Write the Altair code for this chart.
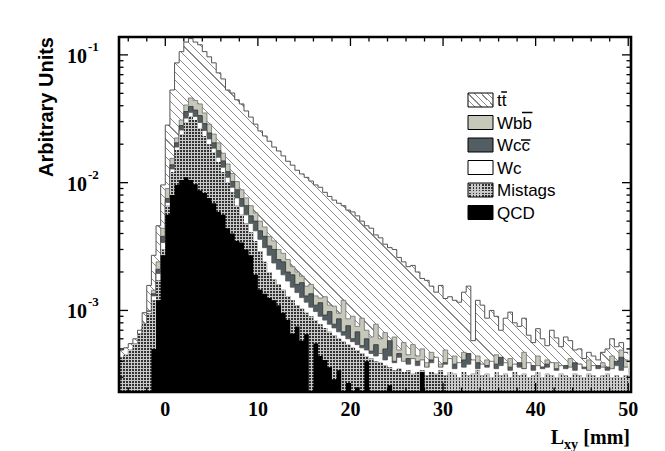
import altair as alt
import pandas as pd
import numpy as np

# ---------------- data (bin contents, units of 1e-4; bins of 0.5 mm from -5 to 50) ----------------
BIN_START, BIN_W, NBINS = -5.0, 0.5, 110
UNIT = 1e-4

ttbar = [4.9, 5.1, 5.5, 6.0, 7.0, 9.6, 15.7, 27, 46, 96,
         282, 531, 866, 1060, 1260, 1340, 1260, 1200, 1060, 965,
         866, 723, 648, 531, 503, 445, 413, 364, 326, 287,
         254, 232, 211, 190, 177, 162, 147, 137, 125, 117,
         110, 103, 96, 92, 84, 78, 73, 69, 66, 61,
         59, 55, 50, 46, 44, 39, 37, 33, 31, 30,
         26, 24, 22, 22.5, 20, 17.8, 17.2, 15.5, 13.9, 15.7,
         12.4, 12.8, 12.0, 11.6, 13.9, 15.5, 5.8, 12.0, 11.0, 8.7,
         10.0, 9.0, 7.0, 8.7, 9.7, 8.0, 7.5, 8.7, 6.4, 5.6,
         7.2, 6.0, 5.3, 7.0, 6.1, 5.2, 6.2, 5.8, 4.9, 5.0,
         4.2, 4.7, 4.4, 4.1, 4.7, 5.0, 6.0, 5.2, 5.6, 4.7]

wbb = [4.1, 4.4, 4.9, 5.2, 6.5, 7.5, 10, 14.4, 24, 44,
       90, 155, 224, 309, 405, 460, 440, 413, 351, 287,
       240, 205, 170, 140, 118, 102, 88, 76, 66, 58,
       50, 45, 38, 35, 30, 28, 25, 22, 20, 18.5,
       15.5, 16, 13, 12.5, 12.8, 11, 10.8, 9.5, 12, 8.6,
       9.0, 7.5, 8.7, 7.0, 6.2, 7.8, 6.0, 6.7, 5.0, 6.2,
       4.9, 5.6, 4.5, 5.4, 4.4, 5.0, 3.9, 4.7, 4.2, 3.8,
       4.9, 3.9, 4.4, 3.6, 4.7, 4.1, 3.8, 4.4, 3.5, 4.1,
       3.6, 4.5, 3.9, 3.5, 4.2, 3.6, 3.4, 4.7, 3.8, 3.5,
       4.4, 3.6, 4.1, 3.4, 3.9, 3.6, 3.3, 4.2, 3.5, 3.8,
       3.4, 4.1, 3.6, 3.3, 3.9, 3.5, 4.4, 3.9, 4.9, 4.1]

wcc = [3.9, 4.2, 4.4, 4.8, 5.8, 7.2, 9.6, 13.5, 21, 38,
       75, 138, 205, 280, 360, 395, 370, 335, 290, 245,
       205, 178, 148, 122, 102, 88, 75, 66, 55, 50,
       42, 38, 32, 30, 25, 24, 20, 19, 16, 16.5,
       13, 13.5, 11, 11.5, 9.2, 9.8, 7.8, 8.6, 6.8, 7.6,
       6.0, 6.8, 5.3, 6.0, 4.8, 5.4, 4.4, 5.0, 5.8, 4.0,
       4.6, 3.8, 4.2, 3.6, 4.0, 3.9, 3.5, 4.1, 3.7, 3.4,
       3.9, 3.5, 3.8, 3.4, 4.1, 4.6, 3.6, 3.9, 3.3, 3.7,
       3.4, 3.8, 4.3, 3.4, 3.6, 3.3, 3.9, 3.5, 3.4, 3.7,
       3.3, 3.6, 3.8, 3.3, 3.5, 3.4, 3.7, 3.3, 3.9, 3.4,
       3.6, 3.3, 3.4, 3.7, 3.3, 3.6, 3.4, 4.0, 4.3, 3.5]

wc = [4.0, 4.3, 4.5, 5.0, 6.0, 7.6, 9.8, 13, 19.5, 34,
      70, 128, 190, 258, 320, 355, 330, 296, 256, 220,
      186, 158, 132, 110, 92, 76, 65, 56, 48, 42,
      36, 31, 27, 23.5, 21, 19, 17, 15.2, 13.8, 12.6,
      11.6, 10.6, 9.8, 9.0, 8.4, 7.8, 7.3, 6.8, 6.4, 6.0,
      5.7, 5.4, 5.1, 4.9, 4.6, 4.4, 4.6, 4.1, 4.4, 3.9,
      4.3, 4.0, 3.8, 4.2, 3.7, 4.1, 3.6, 3.9, 4.3, 3.6,
      3.8, 4.2, 3.5, 3.9, 3.6, 3.8, 4.1, 3.5, 3.8, 3.6,
      4.0, 3.5, 3.7, 3.9, 3.4, 3.8, 3.6, 3.5, 3.9, 3.4,
      3.7, 3.5, 3.6, 3.9, 3.4, 3.7, 3.5, 3.6, 3.4, 3.8,
      3.5, 3.4, 3.7, 3.5, 3.6, 3.4, 3.5, 3.7, 3.4, 3.6]

mistags = [4.3, 4.5, 4.9, 5.5, 6.6, 7.9, 9.5, 12, 17.2, 30,
           66, 121, 180, 240, 298, 332, 309, 268, 232, 200,
           174, 145, 121, 101, 84, 66, 56, 48, 41, 35,
           29, 24, 20, 17.5, 16, 14.5, 13, 12, 11, 10.3,
           9.6, 9.0, 8.4, 7.8, 7.3, 6.8, 6.4, 6.0, 5.7, 5.4,
           5.1, 4.9, 4.6, 4.4, 4.2, 4.0, 3.9, 3.7, 3.6, 3.4,
           3.5, 3.3, 3.4, 3.2, 3.3, 3.4, 3.1, 3.3, 3.2, 3.4,
           3.1, 3.3, 3.2, 3.0, 3.3, 3.1, 3.2, 3.4, 3.1, 3.2,
           3.0, 3.3, 3.1, 3.2, 3.0, 3.3, 3.1, 3.2, 3.0, 3.1,
           3.3, 3.0, 3.2, 3.1, 3.0, 3.2, 3.1, 3.0, 3.2, 3.1,
           3.0, 3.2, 3.1, 3.0, 3.1, 3.2, 3.0, 3.1, 3.0, 3.1]

qcd = ([0, 0, 0, 0, 0, 0, 0, 5.0, 12, 27,
        56, 80, 96, 105, 110, 105, 97, 87, 83, 76,
        69, 59, 56, 44, 40, 35, 34, 30, 27, 19,
        14.5, 13.5, 12.5, 12, 11, 9.6, 8.4, 6.6, 7.5, 5.8,
        6.5, 0, 5.5, 4.4, 4.1, 3.6, 2.9, 3.4, 0, 2.7,
        0, 2.5, 0, 4.0, 0, 0, 0, 0, 2.6, 0,
        0, 0, 0, 0, 0, 3.3, 0, 0, 0, 0]
       + [0] * 40)

x_major = [0, 10, 20, 30, 40, 50]
x_major_labels = ["0", "10", "20", "30", "40", "50"]
x_minor = [-4, -2, 2, 4, 6, 8, 12, 14, 16, 18, 22, 24, 26, 28, 32, 34, 36, 38, 42, 44, 46, 48]
y_major = [1e-3, 1e-2, 1e-1]
y_major_sup = ["-3", "-2", "-1"]
y_minor = [3e-4, 4e-4, 5e-4, 6e-4, 7e-4, 8e-4, 9e-4,
           2e-3, 3e-3, 4e-3, 5e-3, 6e-3, 7e-3, 8e-3, 9e-3,
           2e-2, 3e-2, 4e-2, 5e-2, 6e-2, 7e-2, 8e-2, 9e-2]

legend_labels = ["tt", "Wbb", "Wcc", "Wc", "Mistags", "QCD"]

# ---------------- layout / style ----------------
W, H = 512, 355
XMIN, XMAX = -5.0, 50.3
YMIN, YMAX = 2.3e-4, 0.138

names = ["ttbar", "wbb", "wcc", "wc", "mistags", "qcd"]
series = [ttbar, wbb, wcc, wc, mistags, qcd]
for s in series:
    assert len(s) == NBINS, len(s)

edges = [BIN_START + BIN_W * i for i in range(NBINS + 1)]
df = pd.DataFrame({"x": edges})
for n, s in zip(names, series):
    v = np.array(list(s) + [s[-1]], dtype=float) * UNIT
    df[n] = np.where(v > 0, v, 1e-8)
df["base"] = YMIN

xscale = alt.Scale(domain=[XMIN, XMAX], nice=False, zero=False)
yscale = alt.Scale(type="log", domain=[YMIN, YMAX], nice=False)


def ypix(v):
    return H * (np.log10(YMAX) - np.log10(v)) / (np.log10(YMAX) - np.log10(YMIN))


def xpix(v):
    return W * (v - XMIN) / (XMAX - XMIN)


def stripe_gradient(n, frac, c_on, c_off, x1, y1, x2, y2):
    stops = []
    for k in range(n):
        a, b, c = k / n, (k + frac) / n, (k + 1) / n
        stops += [alt.GradientStop(color=c_on, offset=round(a, 6)),
                  alt.GradientStop(color=c_on, offset=round(b, 6)),
                  alt.GradientStop(color=c_off, offset=round(b, 6)),
                  alt.GradientStop(color=c_off, offset=round(c, 6))]
    return alt.LinearGradient(gradient="linear", stops=stops, x1=x1, y1=y1, x2=x2, y2=y2)


def hatch_gradient(w, h, spacing, line_px, c_line, c_bg):
    r = h / w
    s = (1 + r) / (1 + r * r)
    n = max(1, int(round(w * (1 + r) / spacing)))
    return stripe_gradient(n, line_px / spacing, c_line, c_bg, 0, 1, s, 1 - r * s)


TRANSP = "rgba(255,255,255,0)"
DOT_LIGHT = "#c9c9c9"
DOT_DARK = "#333333"
DOT_P = 3.0
DOT_FRAC = 0.45
HATCH = "#8a8a8a"

# geometry of the histogram shapes (for the fill patterns)
hist_w = xpix(edges[-1]) - xpix(edges[0])
tt_h = H - ypix(max(ttbar) * UNIT)
mis_h = H - ypix(max(mistags) * UNIT)

tt_fill = hatch_gradient(hist_w, tt_h, 8.5, 1.1, HATCH, "white")
mis_vert = stripe_gradient(int(round(hist_w / DOT_P)), DOT_FRAC, DOT_LIGHT, TRANSP, 0, 0, 1, 0)
mis_horz = stripe_gradient(int(round(mis_h / DOT_P)), DOT_FRAC, DOT_LIGHT, TRANSP, 0, 0, 0, 1)

X = alt.X("x:Q", scale=xscale, axis=None)


def area(col, fill):
    return alt.Chart(df).mark_area(interpolate="step-after", clip=True, fill=fill, strokeWidth=0).encode(
        x=X, y=alt.Y(f"{col}:Q", scale=yscale, axis=None), y2="base:Q")


def outline(col, color, width=0.9):
    return alt.Chart(df).mark_line(interpolate="step-after", clip=True, color=color, strokeWidth=width).encode(
        x=X, y=alt.Y(f"{col}:Q", scale=yscale, axis=None))


layers = [
    area("ttbar", tt_fill), outline("ttbar", "#555555", 1.0),
    area("wbb", "#c6c8ba"), outline("wbb", "#6e6e6e", 0.8),
    area("wcc", "#525e61"), outline("wcc", "#333333", 0.8),
    area("wc", "white"), outline("wc", "#555555", 0.8),
    area("mistags", DOT_DARK), area("mistags", mis_vert), area("mistags", mis_horz),
    area("qcd", "black"),
]

one = pd.DataFrame({"a": [0]})

# ticks (inward, on all four sides)
xmaj = pd.DataFrame({"v": x_major, "t": x_major_labels})
xmin_df = pd.DataFrame({"v": x_minor})
ymaj = pd.DataFrame({"v": y_major, "sup": y_major_sup})
ymin_df = pd.DataFrame({"v": y_minor})
XT = alt.X("v:Q", scale=xscale, axis=None)
YT = alt.Y("v:Q", scale=yscale, axis=None)
for d, L in [(xmaj, 9), (xmin_df, 4.5)]:
    layers.append(alt.Chart(d).mark_rule(color="black", strokeWidth=1.3).encode(x=XT, y=alt.value(H), y2=alt.value(H - L)))
    layers.append(alt.Chart(d).mark_rule(color="black", strokeWidth=1.3).encode(x=XT, y=alt.value(0), y2=alt.value(L)))
for d, L in [(ymaj, 9), (ymin_df, 4.5)]:
    layers.append(alt.Chart(d).mark_rule(color="black", strokeWidth=1.3).encode(y=YT, x=alt.value(0), x2=alt.value(L)))
    layers.append(alt.Chart(d).mark_rule(color="black", strokeWidth=1.3).encode(y=YT, x=alt.value(W), x2=alt.value(W - L)))

# frame
layers.append(alt.Chart(one).mark_rect(fillOpacity=0, stroke="black", strokeWidth=2.6).encode(
    x=alt.value(0), x2=alt.value(W), y=alt.value(0), y2=alt.value(H)))

# tick labels
SERIF = "Liberation Serif"
layers.append(alt.Chart(xmaj).mark_text(font=SERIF, fontWeight="bold", fontSize=20, align="center",
                                        baseline="alphabetic").encode(x=XT, y=alt.value(H + 24), text="t:N"))
layers.append(alt.Chart(ymaj).mark_text(font=SERIF, fontWeight="bold", fontSize=20, align="right",
                                        baseline="alphabetic", dy=8, text="10").encode(y=YT, x=alt.value(-32)))
layers.append(alt.Chart(ymaj).mark_text(font=SERIF, fontWeight="bold", fontSize=13, align="left",
                                        baseline="alphabetic", dy=-4).encode(y=YT, x=alt.value(-31), text="sup:N"))

# axis titles
layers.append(alt.Chart(one).mark_text(font="Liberation Sans", fontWeight="bold", fontSize=20, angle=270,
                                       align="right", baseline="middle", text="Arbitrary Units").encode(
    x=alt.value(-72), y=alt.value(0)))
layers.append(alt.Chart(one).mark_text(font=SERIF, fontWeight="bold", fontSize=20, align="right",
                                       baseline="alphabetic", text="[mm]").encode(x=alt.value(W - 1), y=alt.value(H + 52)))
layers.append(alt.Chart(one).mark_text(font=SERIF, fontWeight="bold", fontSize=14, align="right",
                                       baseline="alphabetic", text="xy").encode(x=alt.value(W - 53), y=alt.value(H + 57)))
layers.append(alt.Chart(one).mark_text(font=SERIF, fontWeight="bold", fontSize=20, align="right",
                                       baseline="alphabetic", text="L").encode(x=alt.value(W - 67), y=alt.value(H + 52)))

# legend
LX0, LX1, BOX_H = 349, 374, 14
row_y = [63 + 22.5 * k for k in range(6)]
FS = 17
leg_tt_fill = hatch_gradient(LX1 - LX0, BOX_H, 6.0, 1.0, HATCH, "white")
leg_v = stripe_gradient(int(round((LX1 - LX0) / DOT_P)), DOT_FRAC, DOT_LIGHT, TRANSP, 0, 0, 1, 0)
leg_h = stripe_gradient(int(round(BOX_H / DOT_P)), DOT_FRAC, DOT_LIGHT, TRANSP, 0, 0, 0, 1)
box_fills = [[leg_tt_fill], ["#c6c8ba"], ["#525e61"], ["white"],
             [DOT_DARK, leg_v, leg_h], ["black"]]
for k, (lab, fills) in enumerate(zip(legend_labels, box_fills)):
    yc = row_y[k]
    for f in fills:
        layers.append(alt.Chart(one).mark_rect(fill=f, strokeWidth=0).encode(
            x=alt.value(LX0), x2=alt.value(LX1), y=alt.value(yc - BOX_H / 2), y2=alt.value(yc + BOX_H / 2)))
    layers.append(alt.Chart(one).mark_rect(fillOpacity=0, stroke="black", strokeWidth=1).encode(
        x=alt.value(LX0), x2=alt.value(LX1), y=alt.value(yc - BOX_H / 2), y2=alt.value(yc + BOX_H / 2)))
    layers.append(alt.Chart(one).mark_text(font="Liberation Sans", fontSize=FS, align="left",
                                           baseline="alphabetic", text=lab).encode(
        x=alt.value(LX1 + 4), y=alt.value(yc + 6)))

# overlines (anti-quark bars) in legend labels
em = FS / 1000.0
tx = LX1 + 4
bars = [  # (row, start offset, width, height above baseline)
    (0, 278 * em, 278 * em, 14.0),
    (1, (944 + 556) * em, 556 * em, 16.0),
    (2, (944 + 500) * em, 500 * em, 11.0),
]
for row, off, wid, hh in bars:
    yb = row_y[row] + 6 - hh
    layers.append(alt.Chart(one).mark_rule(color="black", strokeWidth=1.5).encode(
        x=alt.value(tx + off - 0.5), x2=alt.value(tx + off + wid + 0.5), y=alt.value(yb)))

chart = alt.layer(*layers).properties(
    width=W, height=H, autosize="none",
    padding={"left": 111, "top": 29, "right": 26, "bottom": 62},
    background="white",
).configure_view(stroke=None)

chart.save("out.html", embed_options={"renderer": "svg", "actions": False})
